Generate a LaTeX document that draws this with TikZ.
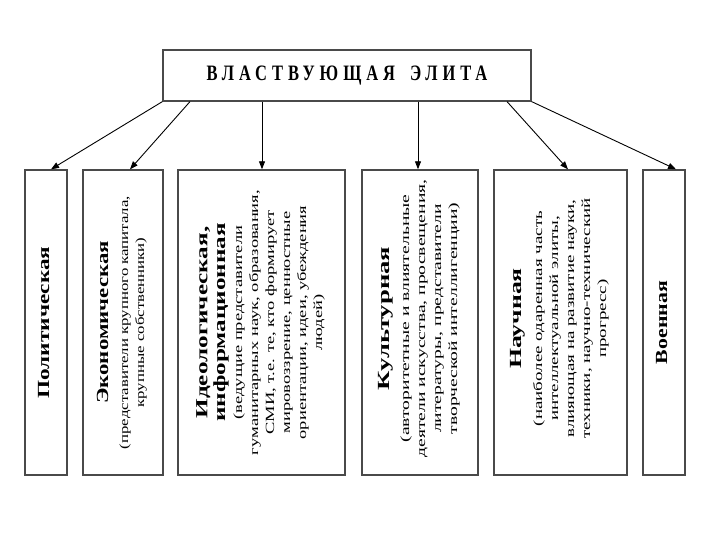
\documentclass[tikz,border=0pt]{standalone}
\usepackage{fontspec}
\usepackage{graphicx}
\setmainfont{Liberation Serif}
\newfontfamily\headserif[LetterSpace=30]{Liberation Serif}
\usetikzlibrary{arrows.meta, positioning, calc}
\definecolor{frame}{HTML}{4a4a4a}
\newcommand{\branchtitle}[1]{{\fontsize{17}{18}\selectfont\bfseries #1}}
\newcommand{\branchtext}[2]{\rotatebox{90}{\resizebox{#1}{\height}{%
    \begin{tabular}{@{}c@{}}#2\end{tabular}}}}

\begin{document}
\begin{tikzpicture}[
    x=1pt, y=-1pt,
    elite/.style={draw=frame, line width=1.2pt, minimum width=368pt,
                  minimum height=51pt, inner sep=0pt},
    heading/.style={xscale=0.75, inner sep=0pt,
                    font=\headserif\fontsize{22}{24}\selectfont\bfseries},
    branch/.style={draw=frame, line width=1.4pt, minimum height=305pt, inner sep=0pt},
    caption/.style={inner sep=0pt, font=\fontsize{12.5}{16}\selectfont},
    link/.style={-{Triangle[length=8pt,width=6pt]}, line width=0.9pt, black},
]
    \path[fill=white, use as bounding box] (0,0) rectangle (720,540);

    % Top box
    \node[elite] (elite) at (347,75.5) {};
    \node[heading] (title) at (elite) {ВЛАСТВУЮЩАЯ\hspace{8pt} ЭЛИТА};

    % Branches
    \node[branch, minimum width=42pt] (b1) at (46,322.5) {};
    \node[branch, minimum width=80pt] (b2) at (123,322.5) {};
    \node[branch, minimum width=167pt] (b3) at (261.5,322.5) {};
    \node[branch, minimum width=116pt] (b4) at (420,322.5) {};
    \node[branch, minimum width=133pt] (b5) at (560.5,322.5) {};
    \node[branch, minimum width=42pt] (b6) at (664,322.5) {};

    % Texts
    \node[caption] (t1) at (b1) {\branchtext{152pt}{\branchtitle{Политическая}}};
    \node[caption] (t2) at (b2) {\branchtext{253pt}{%
        \branchtitle{Экономическая}\\[4pt]
        (представители крупного капитала,\\ крупные собственники)}};
    \node[caption] (t3) at (b3) {\branchtext{265pt}{%
        \branchtitle{Идеологическая,}\\[1pt]
        \branchtitle{информационная}\\[1pt]
        (ведущие представители\\ гуманитарных наук, образования,\\
        СМИ, т.е. те, кто формирует\\ мировоззрение, ценностные\\
        ориентации, идеи, убеждения\\ людей)}};
    \node[caption] (t4) at ([yshift=4pt]b4.center) {\branchtext{278pt}{%
        \branchtitle{Культурная}\\[4pt]
        (авторитетные и влиятельные\\ деятели искусства, просвещения,\\
        литературы, представители\\ творческой интеллигенции)}};
    \node[caption] (t5) at ([yshift=4pt]b5.center) {\branchtext{240pt}{%
        \branchtitle{Научная}\\[5pt]
        (наиболее одаренная часть\\ интеллектуальной элиты,\\
        влияющая на развитие науки,\\ техники, научно-технический\\ прогресс)}};
    \node[caption] (t6) at (b6) {\branchtext{83pt}{\branchtitle{Военная}}};

    % Connections
    \draw[link] (elite.south west) -- ([xshift=5pt]b1.north);
    \draw[link] ([xshift=-157pt]elite.south) -- ([xshift=7pt]b2.north);
    \draw[link] ([xshift=-85pt]elite.south) -- ([xshift=0.5pt]b3.north);
    \draw[link] ([xshift=71pt]elite.south) -- ([xshift=-2pt]b4.north);
    \draw[link] ([xshift=160pt]elite.south) -- ([xshift=7.5pt]b5.north);
    \draw[link] (elite.south east) -- ([xshift=12pt]b6.north);
\end{tikzpicture}
\end{document}
